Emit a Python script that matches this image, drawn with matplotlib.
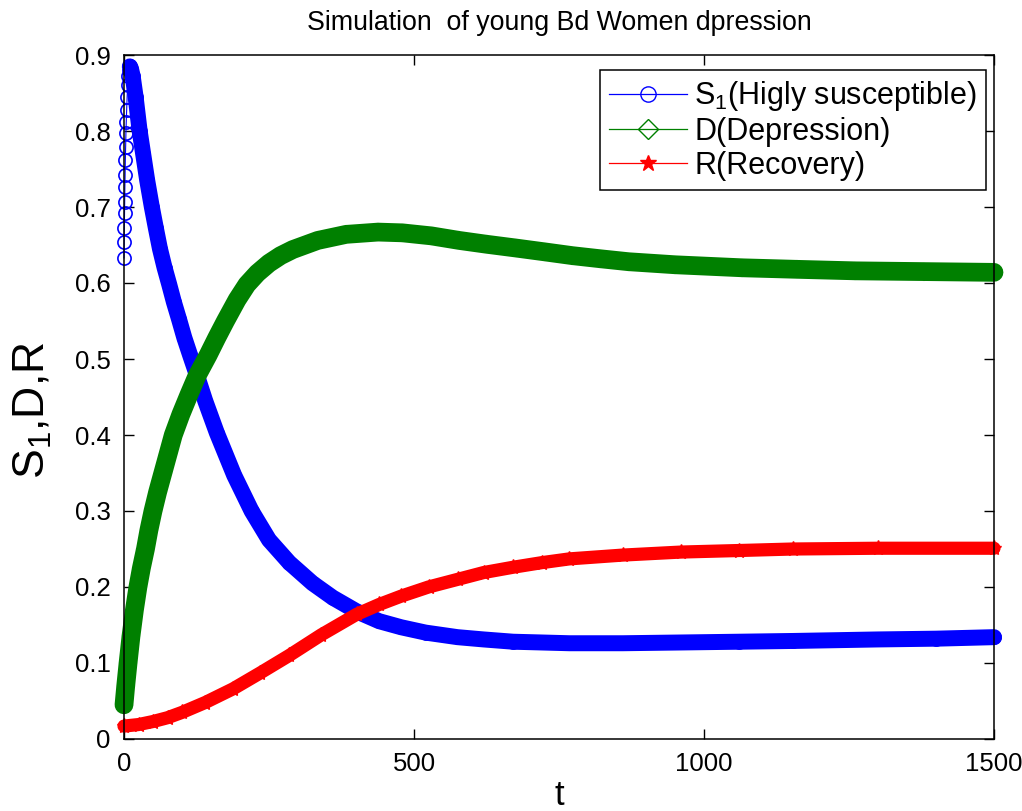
import matplotlib
matplotlib.use("Agg")
import matplotlib.pyplot as plt
from matplotlib.lines import Line2D

plt.rcParams['font.family'] = ['Liberation Sans', 'DejaVu Sans']
plt.rcParams['mathtext.fontset'] = 'custom'
plt.rcParams['mathtext.rm'] = 'Liberation Sans'

# ---- data ----
t_s1 = [0, 0.3, 0.6, 0.9, 1.2, 1.5, 1.9, 2.3, 2.8, 3.3, 3.9, 4.6, 5.4, 6.3, 7.3, 8.5,
        10, 12, 15, 20, 27, 33, 40, 48, 55, 62, 70, 78, 86, 95,
        104, 114, 126, 140, 160, 190, 220, 250, 285, 325, 360, 401, 440, 478, 520,
        575, 620, 671, 720, 768, 860, 961, 1060, 1154, 1300, 1400, 1500]
s1 = [0.633, 0.654, 0.672, 0.692, 0.707, 0.726, 0.742, 0.762, 0.779, 0.797, 0.812,
      0.828, 0.845, 0.86, 0.872, 0.88,
      0.885, 0.882, 0.872, 0.845, 0.80, 0.77,
      0.735, 0.70, 0.672, 0.645, 0.62, 0.598, 0.575, 0.552, 0.528, 0.505, 0.478,
      0.445, 0.403, 0.347, 0.300, 0.262, 0.232, 0.205, 0.186, 0.168, 0.155, 0.147,
      0.140, 0.134, 0.131, 0.128, 0.127, 0.126, 0.126, 0.127, 0.128, 0.129, 0.131,
      0.132, 0.134]

t_d = [0, 3, 7, 12, 18, 24, 30, 37, 43, 50, 58, 67, 76, 85, 98, 112, 126, 145, 160,
       175, 195, 212, 230, 250, 270, 291, 334, 383, 438, 480, 530, 578, 625, 676,
       725, 773, 820, 870, 950, 1066, 1160, 1261, 1380, 1500]
d = [0.045, 0.07, 0.10, 0.135, 0.17, 0.20, 0.225, 0.25, 0.275, 0.30, 0.325, 0.35,
     0.375, 0.40, 0.427, 0.453, 0.478, 0.505, 0.528, 0.55, 0.578, 0.598, 0.613,
     0.626, 0.636, 0.644, 0.656, 0.664, 0.667, 0.666, 0.662, 0.656, 0.651, 0.646,
     0.641, 0.636, 0.632, 0.628, 0.624, 0.620, 0.618, 0.616, 0.615, 0.614]

t_r = [0, 25, 50, 75, 100, 140, 188, 235, 285, 340, 401, 440, 478, 525, 575, 620,
       671, 720, 768, 860, 961, 1060, 1154, 1300, 1500]
r = [0.017, 0.019, 0.023, 0.028, 0.035, 0.048, 0.066, 0.087, 0.11, 0.137, 0.164,
     0.177, 0.188, 0.20, 0.21, 0.219, 0.226, 0.232, 0.237, 0.242, 0.246, 0.248,
     0.250, 0.251, 0.251]

labels = ['S$_\\mathregular{1}$(Higly susceptible)', 'D(Depression)', 'R(Recovery)']
x_ticks = [0, 500, 1000, 1500]
y_ticks = [0, 0.1, 0.2, 0.3, 0.4, 0.5, 0.6, 0.7, 0.8, 0.9]
y_tick_labels = ['0', '0.1', '0.2', '0.3', '0.4', '0.5', '0.6', '0.7', '0.8', '0.9']

fig = plt.figure(figsize=(10.22, 8.11), dpi=100)
ax = fig.add_axes([124/1022, 72/811, 870/1022, 684/811])

blue, green, red = (0, 0, 1), (0, 0.5, 0), (1, 0, 0)

kw = dict(solid_capstyle='round', solid_joinstyle='round', clip_on=False)
# S1: thin line + circle markers everywhere; dense band from the peak onward
ax.plot(t_s1, s1, color=blue, lw=0.8, marker='o', ms=9.5, mfc='none', mec=blue,
        mew=1.2, clip_on=False)
ax.plot(t_s1[16:], s1[16:], color=blue, lw=11.5, **kw)
ax.plot(t_d, d, color=green, lw=13.5, **kw)
ax.plot(t_d, d, color=green, lw=0, marker='D', ms=8, mfc='none', mec=green, mew=1.2,
        clip_on=False)
ax.plot(t_r, r, color=red, lw=9.5, **kw)
ax.plot(t_r, r, color=red, lw=0, marker='*', ms=11, mfc=red, mec=red, mew=1,
        clip_on=False)

ax.set_xlim(0, 1500)
ax.set_ylim(0, 0.9)
ax.set_xticks(x_ticks)
ax.set_yticks(y_ticks)
ax.set_yticklabels(y_tick_labels)
ax.tick_params(direction='in', length=7, width=1, top=True, right=True,
               labelsize=18.5, pad=9.5)
for sp in ax.spines.values():
    sp.set_linewidth(1.1)
    sp.set_zorder(5)

ax.set_title('Simulation  of young Bd Women dpression', fontsize=19.3, pad=18)
ax.set_xlabel('t', fontsize=25)
ax.set_ylabel('S$_\\mathregular{1}$,D,R', fontsize=32)
ax.yaxis.set_label_coords(-0.08, 0.48)
ax.xaxis.set_label_coords(0.5, -0.058)

handles = [
    Line2D([], [], color=blue, lw=0.9, marker='o', ms=11, mfc='none', mec=blue),
    Line2D([], [], color=green, lw=0.9, marker='D', ms=10, mfc='none', mec=green),
    Line2D([], [], color=red, lw=0.9, marker='*', ms=12, mfc=red, mec=red),
]
leg = ax.legend(handles, labels, loc='upper right', bbox_to_anchor=(0.991, 0.978),
                borderaxespad=0, fancybox=False, framealpha=1, edgecolor='black',
                fontsize=22, handlelength=2.55, handletextpad=0.25, labelspacing=0.12,
                borderpad=0.3)
leg.get_frame().set_linewidth(1.1)
leg.set_zorder(10)

fig.savefig('out.png', dpi=100)
